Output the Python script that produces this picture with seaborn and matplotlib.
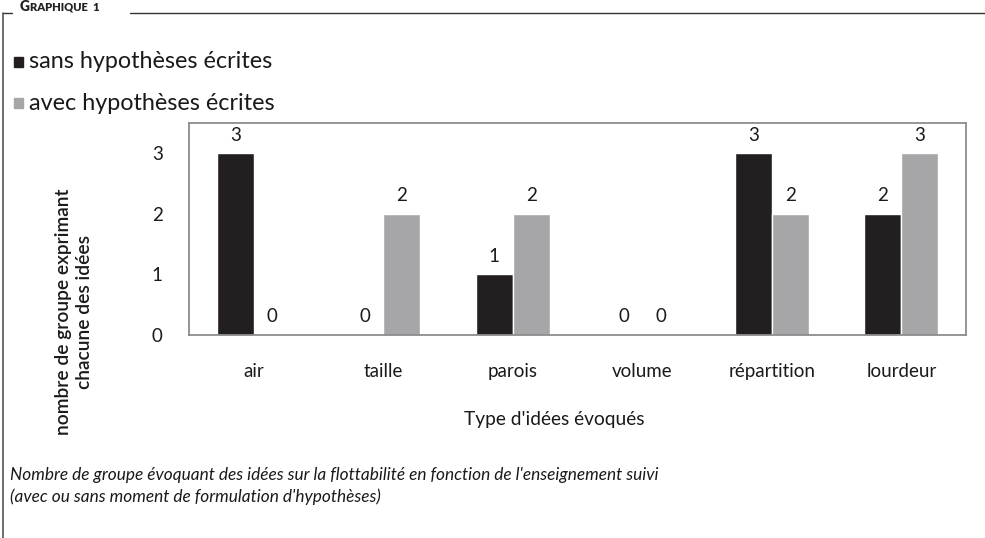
import pandas as pd
import numpy as np
import matplotlib
matplotlib.use("Agg")
import matplotlib.pyplot as plt
import seaborn as sns
from matplotlib.lines import Line2D

# Data
categories = ['air', 'taille', 'parois', 'volume', 'répartition', 'lourdeur']
sans_hyp = [3, 0, 1, 0, 3, 2]
avec_hyp = [0, 2, 2, 0, 2, 3]
series_names = ['sans hypothèses écrites', 'avec hypothèses écrites']
y_ticks = [0, 1, 2, 3]

df = pd.DataFrame({
    'idee': categories * 2,
    'valeur': sans_hyp + avec_hyp,
    'serie': [series_names[0]] * len(categories) + [series_names[1]] * len(categories),
})

sns.set_style("white")
plt.rcParams['font.family'] = ['Lato', 'DejaVu Sans']

black = '#231f20'
grey = '#a6a6a8'
txt = '#1a1a1a'

fig = plt.figure(figsize=(9.85, 5.38), dpi=100)
ax = fig.add_axes([189 / 985, 1 - 335 / 538, (966 - 189) / 985, (335 - 123) / 538])

sns.barplot(data=df, x='idee', y='valeur', hue='serie', order=categories,
            hue_order=series_names, palette=[black, grey], width=0.57,
            gap=0, saturation=1, legend=False, ax=ax)

# value labels
for cont in ax.containers:
    ax.bar_label(cont, fmt='%d', padding=7, fontsize=13.5, color=txt)

ax.set_ylim(0, 3.5)
ax.set_xlim(-0.5, len(categories) - 0.5)
ax.set_yticks(y_ticks)
ax.tick_params(axis='y', length=0, pad=19, labelsize=13.5, labelcolor=txt)
ax.tick_params(axis='x', length=0, pad=20, labelsize=13.5, labelcolor=txt)
ax.set_xlabel('')
ax.set_ylabel('')
for sp in ax.spines.values():
    sp.set_color('#8c8c8c')
    sp.set_linewidth(1.3)

# axis titles
fig.text(554 / 985, 1 - 419 / 538, "Type d'idées évoqués", ha='center', va='center',
         fontsize=13.8, color=txt)
fig.text(74 / 985, 1 - 312 / 538, "nombre de groupe exprimant\nchacune des idées",
         rotation=90, ha='center', va='center', fontsize=13.8, color=txt,
         fontweight='semibold', linespacing=1.35)

# legend (top left)
fig.text(29 / 985, 1 - 62 / 538, series_names[0], ha='left', va='center',
         fontsize=16.8, color=txt)
fig.text(29 / 985, 1 - 103 / 538, series_names[1], ha='left', va='center',
         fontsize=16.8, color=txt)
fig.patches.append(plt.Rectangle((14 / 985, 1 - 67 / 538), 9 / 985, 10 / 538,
                                 transform=fig.transFigure, color=black))
fig.patches.append(plt.Rectangle((14 / 985, 1 - 108 / 538), 9 / 985, 10 / 538,
                                 transform=fig.transFigure, color=grey))

# caption
fig.text(10 / 985, 1 - 475 / 538,
         "Nombre de groupe évoquant des idées sur la flottabilité en fonction de l'enseignement suivi",
         ha='left', va='center', fontsize=12.4, style='italic', color=txt)
fig.text(10 / 985, 1 - 497 / 538,
         "(avec ou sans moment de formulation d'hypothèses)",
         ha='left', va='center', fontsize=12.4, style='italic', color=txt)

# frame of the figure box
y_top = 1 - 13 / 538
fig.add_artist(Line2D([3 / 985, 12 / 985], [y_top, y_top], color='#333333', lw=1,
                      transform=fig.transFigure))
fig.add_artist(Line2D([130 / 985, 1], [y_top, y_top], color='#333333', lw=1,
                      transform=fig.transFigure))
fig.add_artist(Line2D([3 / 985, 3 / 985], [y_top, 0], color='#555555', lw=1.2,
                      transform=fig.transFigure))
fig.text(20 / 985, 1 - 11 / 538, "G", ha='left', va='baseline', fontsize=10,
         fontweight='heavy', color='#222222')
fig.text(30 / 985, 1 - 11 / 538, "RAPHIQUE  1", ha='left', va='baseline', fontsize=8,
         fontweight='heavy', color='#222222')

fig.savefig('out.png', dpi=100)
